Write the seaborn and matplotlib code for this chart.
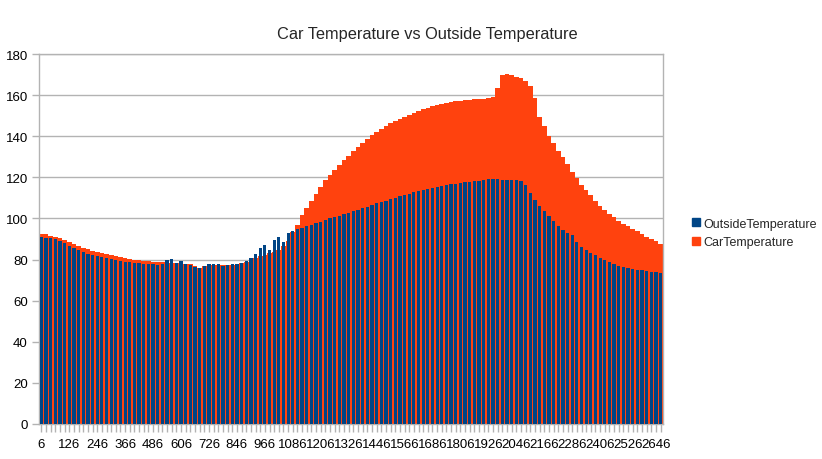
import matplotlib
matplotlib.use("Agg")
import matplotlib.pyplot as plt
import matplotlib.patches as mpatches
import seaborn as sns
import pandas as pd

# sample time index (every 20th reading of the series)
categories = list(range(6, 2667, 20))

outside_temperature = [
    91.0, 90.7, 90.3, 89.8, 89.2, 88.0, 86.5, 85.5, 84.5, 83.6,
    82.8, 82.2, 81.7, 81.2, 80.7, 80.3, 79.9, 79.4, 79.0, 78.6,
    78.3, 78.1, 77.9, 77.8, 77.7, 77.5, 77.6, 79.8, 80.2, 78.2,
    79.5, 77.8, 77.2, 76.5, 75.9, 77.0, 77.8, 78.0, 77.6, 77.0,
    77.2, 77.6, 78.0, 78.5, 79.5, 80.8, 82.5, 85.5, 87.0, 84.5,
    89.5, 91.0, 88.5, 93.0, 94.0, 94.8, 95.5, 96.3, 97.0, 97.8,
    98.5, 99.3, 100.0, 100.7, 101.4, 102.1, 102.8, 103.6, 104.3, 105.0,
    105.7, 106.5, 107.3, 108.0, 108.6, 109.3, 110.0, 110.8, 111.5, 112.1,
    112.7, 113.3, 113.9, 114.5, 115.0, 115.5, 116.0, 116.4, 116.7, 117.0,
    117.3, 117.6, 117.9, 118.2, 118.4, 118.7, 119.0, 119.1, 119.0, 118.8,
    118.5, 118.5, 118.7, 118.0, 116.5, 112.5, 109.0, 106.0, 103.5, 101.0,
    98.8, 96.5, 94.5, 93.0, 92.0, 88.5, 86.0, 84.6, 83.3, 82.0,
    80.8, 79.8, 78.6, 77.8, 77.1, 76.5, 75.8, 75.4, 75.1, 74.8,
    74.4, 74.1, 73.9, 73.7,
]

car_temperature = [
    92.6, 92.2, 91.7, 91.2, 90.5, 89.6, 88.6, 87.5, 86.6, 85.7,
    85.0, 84.4, 83.9, 83.3, 82.8, 82.2, 81.7, 81.2, 80.8, 80.3,
    79.9, 79.6, 79.3, 79.1, 78.9, 78.8, 78.7, 78.6, 78.4, 78.3,
    78.1, 77.9, 77.7, 77.0, 75.8, 76.8, 77.6, 77.5, 77.4, 77.4,
    77.4, 77.5, 77.8, 78.2, 78.8, 79.6, 80.6, 81.5, 82.3, 83.0,
    83.8, 84.8, 86.5, 89.0, 93.5, 97.0, 101.5, 105.0, 108.5, 112.0,
    115.5, 118.5, 121.0, 123.5, 126.0, 128.2, 130.5, 132.8, 134.8, 136.8,
    138.8, 140.6, 142.0, 143.5, 145.0, 146.2, 147.3, 148.4, 149.4, 150.5,
    151.4, 152.3, 153.1, 153.8, 154.5, 155.1, 155.6, 156.0, 156.5, 156.9,
    157.2, 157.4, 157.6, 157.9, 158.1, 158.2, 158.4, 159.0, 163.5, 170.0,
    170.5, 169.8, 169.0, 168.3, 166.8, 164.3, 158.5, 149.5, 145.0, 140.0,
    136.8, 133.0, 129.8, 126.3, 122.8, 119.5, 116.5, 113.8, 111.2, 108.5,
    106.0, 104.0, 102.1, 100.5, 99.0, 97.5, 96.1, 94.9, 93.7, 92.5,
    91.0, 89.8, 88.8, 87.8,
]

series_names = ["OutsideTemperature", "CarTemperature"]
title = "Car Temperature vs Outside Temperature"
y_ticks = [0, 20, 40, 60, 80, 100, 120, 140, 160, 180]

BLUE = "#004586"
ORANGE = "#ff420e"
GRID = "#b3b3b3"

sns.set_theme(style="white")
plt.rcParams["font.family"] = ["Liberation Sans", "DejaVu Sans"]

df = pd.DataFrame({
    "cat": [str(c) for c in categories],
    series_names[0]: outside_temperature,
    series_names[1]: car_temperature,
})

fig = plt.figure(figsize=(8.22, 4.6), dpi=100)
ax = fig.add_axes([39 / 822, 1 - 425 / 460, (663 - 39) / 822, (425 - 55) / 460])

sns.barplot(data=df, x="cat", y=series_names[1], color=ORANGE, width=1.0,
            saturation=1, linewidth=0, errorbar=None, ax=ax, zorder=2)
sns.barplot(data=df, x="cat", y=series_names[0], color=BLUE, width=0.7,
            saturation=1, linewidth=0, errorbar=None, ax=ax, zorder=3)

n = len(categories)
ax.set_xlim(-0.5, n - 0.5)
ax.set_ylim(0, 180)
ax.set_yticks(y_ticks)
ax.set_yticklabels([str(t) for t in y_ticks])
ax.set_xticks(range(n))
ax.set_xticklabels([str(c) if i % 6 == 0 else "" for i, c in enumerate(categories)])
ax.tick_params(axis="x", length=6, width=1, color=GRID, labelsize=9.5, pad=4,
               bottom=True)
ax.tick_params(axis="y", length=5, width=1, color=GRID, labelsize=9.5, pad=3,
               left=True)
for lab in ax.get_xticklabels() + ax.get_yticklabels():
    lab.set_color("black")

ax.set_xlabel("")
ax.set_ylabel("")
ax.yaxis.grid(True, color=GRID, linewidth=1)
ax.set_axisbelow(True)
for sp in ax.spines.values():
    sp.set_color(GRID)
    sp.set_linewidth(1)
    sp.set_visible(True)

fig.text(427 / 822, 1 - 34 / 460, title, ha="center", va="center", fontsize=11.8)

handles = [mpatches.Patch(color=BLUE, label=series_names[0]),
           mpatches.Patch(color=ORANGE, label=series_names[1])]
fig.legend(handles=handles, loc="center left", bbox_to_anchor=(686 / 822, 1 - 234 / 460),
           frameon=False, fontsize=9.0, handlelength=0.6, handleheight=0.6,
           handletextpad=0.3, labelspacing=0.55, borderpad=0)

fig.savefig("out.png", dpi=100)
